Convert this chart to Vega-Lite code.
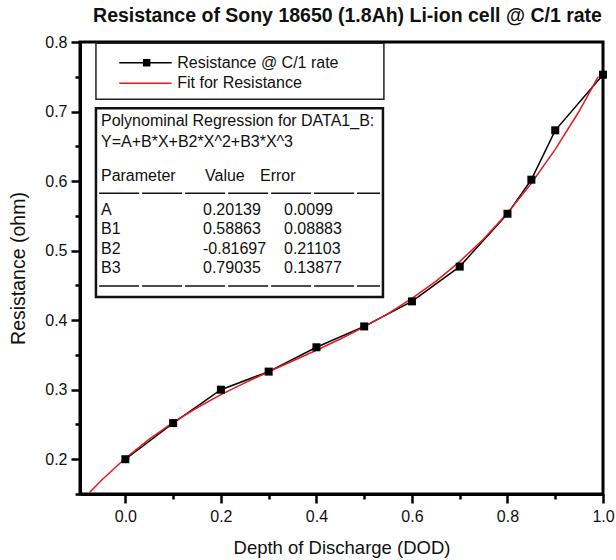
{
  "$schema": "https://vega.github.io/schema/vega-lite/v6.json",
  "width": 523,
  "height": 452,
  "autosize": {"type": "none"},
  "padding": {"left": 80, "top": 42, "right": 13, "bottom": 66},
  "background": "white",
  "title": {
    "text": "Resistance of Sony 18650 (1.8Ah) Li-ion cell @ C/1 rate",
    "font": "Liberation Sans",
    "fontSize": 19.5,
    "fontWeight": "bold",
    "color": "#111",
    "anchor": "middle",
    "frame": "group",
    "offset": 8,
    "dx": 6
  },
  "config": {
    "view": {"stroke": "black", "strokeWidth": 3},
    "axis": {
      "grid": false,
      "domainWidth": 3,
      "domainColor": "black",
      "tickColor": "black",
      "tickWidth": 2.5,
      "labelFont": "Liberation Sans",
      "labelFontSize": 16,
      "labelColor": "#111",
      "titleFont": "Liberation Sans",
      "titleFontWeight": "normal",
      "titleColor": "#111",
      "labelOverlap": false,
      "labelFlush": false
    },
    "text": {"font": "Liberation Sans", "color": "#111"}
  },
  "datasets": {
    "measured": [
      {"dod": 0.0, "resistance": 0.200},
      {"dod": 0.1, "resistance": 0.252},
      {"dod": 0.2, "resistance": 0.300},
      {"dod": 0.3, "resistance": 0.326},
      {"dod": 0.4, "resistance": 0.361},
      {"dod": 0.5, "resistance": 0.391},
      {"dod": 0.6, "resistance": 0.427},
      {"dod": 0.7, "resistance": 0.477},
      {"dod": 0.8, "resistance": 0.553},
      {"dod": 0.85, "resistance": 0.602},
      {"dod": 0.9, "resistance": 0.673},
      {"dod": 1.0, "resistance": 0.753}
    ],
    "fit": [
      {"dod": -0.075, "resistance": 0.1523},
      {"dod": -0.05, "resistance": 0.1698},
      {"dod": 0.0, "resistance": 0.2014},
      {"dod": 0.05, "resistance": 0.2289},
      {"dod": 0.1, "resistance": 0.2529},
      {"dod": 0.15, "resistance": 0.2740},
      {"dod": 0.2, "resistance": 0.2928},
      {"dod": 0.25, "resistance": 0.3098},
      {"dod": 0.3, "resistance": 0.3258},
      {"dod": 0.35, "resistance": 0.3412},
      {"dod": 0.4, "resistance": 0.3567},
      {"dod": 0.45, "resistance": 0.3729},
      {"dod": 0.5, "resistance": 0.3903},
      {"dod": 0.55, "resistance": 0.4095},
      {"dod": 0.6, "resistance": 0.4312},
      {"dod": 0.65, "resistance": 0.4559},
      {"dod": 0.7, "resistance": 0.4842},
      {"dod": 0.75, "resistance": 0.5168},
      {"dod": 0.8, "resistance": 0.5541},
      {"dod": 0.85, "resistance": 0.5968},
      {"dod": 0.9, "resistance": 0.6456},
      {"dod": 0.95, "resistance": 0.7004},
      {"dod": 0.99, "resistance": 0.7503}
    ],
    "table": [
      {"param": "A", "value": "0.20139", "error": "0.0099"},
      {"param": "B1", "value": "0.58863", "error": "0.08883"},
      {"param": "B2", "value": "-0.81697", "error": "0.21103"},
      {"param": "B3", "value": "0.79035", "error": "0.13877"}
    ]
  },
  "layer": [
    {
      "layer": [
        {
          "data": {"name": "measured"},
          "mark": {"type": "line", "color": "black", "strokeWidth": 1.5},
          "encoding": {
            "x": {"field": "dod", "type": "quantitative", "scale": {"domain": [-0.095, 1.0], "nice": false, "zero": false},
              "axis": {"title": "Depth of Discharge (DOD)", "titleFontSize": 18.5, "values": [0, 0.1, 0.2, 0.3, 0.4, 0.5, 0.6, 0.7, 0.8, 0.9, 1.0], "labelExpr": "abs(datum.value*5-round(datum.value*5))<0.001 ? format(datum.value,'.1f') : ''", "tickSize": {"condition": {"test": "abs(datum.value*5-round(datum.value*5))<0.001", "value": 9}, "value": 5}, "labelPadding": 5, "titlePadding": 14}},
            "y": {"field": "resistance", "type": "quantitative", "scale": {"domain": [0.15, 0.8], "nice": false, "zero": false},
              "axis": {"title": "Resistance (ohm)", "titleFontSize": 19.5, "values": [0.15, 0.2, 0.25, 0.3, 0.35, 0.4, 0.45, 0.5, 0.55, 0.6, 0.65, 0.7, 0.75, 0.8], "labelExpr": "abs(datum.value*10-round(datum.value*10))<0.001 ? format(datum.value,'.1f') : ''", "tickSize": {"condition": {"test": "abs(datum.value*10-round(datum.value*10))<0.001", "value": 9}, "value": 5}, "labelPadding": 4, "titlePadding": 16}}
          }
        },
        {
          "data": {"name": "fit"},
          "mark": {"type": "line", "color": "#e41a1c", "strokeWidth": 1.5},
          "encoding": {
            "x": {"field": "dod", "type": "quantitative", "scale": {"domain": [-0.095, 1.0], "nice": false, "zero": false},
              "axis": {"title": "Depth of Discharge (DOD)", "titleFontSize": 18.5, "values": [0, 0.1, 0.2, 0.3, 0.4, 0.5, 0.6, 0.7, 0.8, 0.9, 1.0], "labelExpr": "abs(datum.value*5-round(datum.value*5))<0.001 ? format(datum.value,'.1f') : ''", "tickSize": {"condition": {"test": "abs(datum.value*5-round(datum.value*5))<0.001", "value": 9}, "value": 5}, "labelPadding": 5, "titlePadding": 14}},
            "y": {"field": "resistance", "type": "quantitative", "scale": {"domain": [0.15, 0.8], "nice": false, "zero": false},
              "axis": {"title": "Resistance (ohm)", "titleFontSize": 19.5, "values": [0.15, 0.2, 0.25, 0.3, 0.35, 0.4, 0.45, 0.5, 0.55, 0.6, 0.65, 0.7, 0.75, 0.8], "labelExpr": "abs(datum.value*10-round(datum.value*10))<0.001 ? format(datum.value,'.1f') : ''", "tickSize": {"condition": {"test": "abs(datum.value*10-round(datum.value*10))<0.001", "value": 9}, "value": 5}, "labelPadding": 4, "titlePadding": 16}}
          }
        },
        {
          "data": {"name": "measured"},
          "mark": {"type": "square", "color": "black", "filled": true, "opacity": 1, "size": 64},
          "encoding": {
            "x": {"field": "dod", "type": "quantitative", "scale": {"domain": [-0.095, 1.0], "nice": false, "zero": false},
              "axis": {"title": "Depth of Discharge (DOD)", "titleFontSize": 18.5, "values": [0, 0.1, 0.2, 0.3, 0.4, 0.5, 0.6, 0.7, 0.8, 0.9, 1.0], "labelExpr": "abs(datum.value*5-round(datum.value*5))<0.001 ? format(datum.value,'.1f') : ''", "tickSize": {"condition": {"test": "abs(datum.value*5-round(datum.value*5))<0.001", "value": 9}, "value": 5}, "labelPadding": 5, "titlePadding": 14}},
            "y": {"field": "resistance", "type": "quantitative", "scale": {"domain": [0.15, 0.8], "nice": false, "zero": false},
              "axis": {"title": "Resistance (ohm)", "titleFontSize": 19.5, "values": [0.15, 0.2, 0.25, 0.3, 0.35, 0.4, 0.45, 0.5, 0.55, 0.6, 0.65, 0.7, 0.75, 0.8], "labelExpr": "abs(datum.value*10-round(datum.value*10))<0.001 ? format(datum.value,'.1f') : ''", "tickSize": {"condition": {"test": "abs(datum.value*10-round(datum.value*10))<0.001", "value": 9}, "value": 5}, "labelPadding": 4, "titlePadding": 16}}
          }
        },
        {
          "data": {"values": [{"id": 1}]},
          "encoding": {
            "x": {"datum": 0, "type": "quantitative", "scale": {"domain": [-0.095, 1.0], "nice": false, "zero": false},
              "axis": {"title": "Depth of Discharge (DOD)", "titleFontSize": 18.5, "values": [0, 0.1, 0.2, 0.3, 0.4, 0.5, 0.6, 0.7, 0.8, 0.9, 1.0], "labelExpr": "abs(datum.value*5-round(datum.value*5))<0.001 ? format(datum.value,'.1f') : ''", "tickSize": {"condition": {"test": "abs(datum.value*5-round(datum.value*5))<0.001", "value": 9}, "value": 5}, "labelPadding": 5, "titlePadding": 14}},
            "y": {"datum": 0.5, "type": "quantitative", "scale": {"domain": [0.15, 0.8], "nice": false, "zero": false},
              "axis": {"title": "Resistance (ohm)", "titleFontSize": 19.5, "values": [0.15, 0.2, 0.25, 0.3, 0.35, 0.4, 0.45, 0.5, 0.55, 0.6, 0.65, 0.7, 0.75, 0.8], "labelExpr": "abs(datum.value*10-round(datum.value*10))<0.001 ? format(datum.value,'.1f') : ''", "tickSize": {"condition": {"test": "abs(datum.value*10-round(datum.value*10))<0.001", "value": 9}, "value": 5}, "labelPadding": 4, "titlePadding": 16}}
          },
          "layer": [
            {
              "mark": {"type": "rect", "fill": "white", "stroke": "#222", "strokeWidth": 1.5},
              "encoding": {"x": {"datum": -0.0616}, "x2": {"datum": 0.5413}, "y": {"datum": 0.7176}, "y2": {"datum": 0.7981}}
            },
            {
              "mark": {"type": "rect", "fill": "white", "stroke": "#111", "strokeWidth": 2.5},
              "encoding": {"x": {"datum": -0.0616}, "x2": {"datum": 0.5393}, "y": {"datum": 0.4333}, "y2": {"datum": 0.7047}}
            },
            {
              "mark": {"type": "rule", "color": "black", "strokeWidth": 1.5},
              "encoding": {"x": {"datum": -0.0128}, "x2": {"datum": 0.0969}, "y": {"datum": 0.7702}}
            },
            {
              "mark": {"type": "square", "color": "black", "filled": true, "opacity": 1, "size": 56},
              "encoding": {"x": {"datum": 0.0446}, "y": {"datum": 0.7702}}
            },
            {
              "mark": {"type": "rule", "color": "#e41a1c", "strokeWidth": 1.5},
              "encoding": {"x": {"datum": -0.0128}, "x2": {"datum": 0.0969}, "y": {"datum": 0.7406}}
            },
            {
              "mark": {"type": "text", "align": "left", "baseline": "middle", "fontSize": 16, "text": "Resistance @ C/1 rate"},
              "encoding": {"x": {"datum": 0.1087}, "y": {"datum": 0.7702}}
            },
            {
              "mark": {"type": "text", "align": "left", "baseline": "middle", "fontSize": 16, "text": "Fit for Resistance"},
              "encoding": {"x": {"datum": 0.1087}, "y": {"datum": 0.7406}}
            },
            {
              "mark": {"type": "text", "align": "left", "baseline": "middle", "fontSize": 16, "text": "Polynominal Regression for DATA1_B:"},
              "encoding": {"x": {"datum": -0.0511}, "y": {"datum": 0.6864}}
            },
            {
              "mark": {"type": "text", "align": "left", "baseline": "middle", "fontSize": 16, "text": "Y=A+B*X+B2*X^2+B3*X^3"},
              "encoding": {"x": {"datum": -0.0511}, "y": {"datum": 0.6562}}
            },
            {
              "mark": {"type": "text", "align": "left", "baseline": "middle", "fontSize": 16, "text": "Parameter"},
              "encoding": {"x": {"datum": -0.0511}, "y": {"datum": 0.6073}}
            },
            {
              "mark": {"type": "text", "align": "left", "baseline": "middle", "fontSize": 16, "text": "Value"},
              "encoding": {"x": {"datum": 0.1667}, "y": {"datum": 0.6073}}
            },
            {
              "mark": {"type": "text", "align": "left", "baseline": "middle", "fontSize": 16, "text": "Error"},
              "encoding": {"x": {"datum": 0.2818}, "y": {"datum": 0.6073}}
            },
            {
              "mark": {"type": "rule", "color": "#111", "strokeWidth": 1.5, "strokeDash": [40, 3]},
              "encoding": {"x": {"datum": -0.055}, "x2": {"datum": 0.533}, "y": {"datum": 0.5824}}
            },
            {
              "mark": {"type": "rule", "color": "#111", "strokeWidth": 1.5, "strokeDash": [40, 3]},
              "encoding": {"x": {"datum": -0.055}, "x2": {"datum": 0.533}, "y": {"datum": 0.4491}}
            }
          ]
        }
      ]
    },
    {
      "data": {"name": "table"},
      "encoding": {
        "x": {"datum": 0, "type": "quantitative", "scale": {"domain": [-0.095, 1.0], "nice": false, "zero": false},
          "axis": {"title": "Depth of Discharge (DOD)", "titleFontSize": 18.5, "values": [0, 0.1, 0.2, 0.3, 0.4, 0.5, 0.6, 0.7, 0.8, 0.9, 1.0], "labelExpr": "abs(datum.value*5-round(datum.value*5))<0.001 ? format(datum.value,'.1f') : ''", "tickSize": {"condition": {"test": "abs(datum.value*5-round(datum.value*5))<0.001", "value": 9}, "value": 5}, "labelPadding": 5, "titlePadding": 14}},
        "y": {
          "field": "param",
          "type": "ordinal",
          "scale": {"type": "point", "domain": ["A", "B1", "B2", "B3"], "range": [168, 226], "padding": 0},
          "axis": null
        }
      },
      "layer": [
        {
          "mark": {"type": "text", "align": "left", "baseline": "middle", "fontSize": 16},
          "encoding": {"x": {"datum": -0.0511}, "text": {"field": "param"}}
        },
        {
          "mark": {"type": "text", "align": "left", "baseline": "middle", "fontSize": 16},
          "encoding": {"x": {"datum": 0.1625}, "text": {"field": "value"}}
        },
        {
          "mark": {"type": "text", "align": "left", "baseline": "middle", "fontSize": 16},
          "encoding": {"x": {"datum": 0.3321}, "text": {"field": "error"}}
        }
      ]
    }
  ],
  "resolve": {"scale": {"y": "independent"}, "axis": {"y": "independent"}}
}
